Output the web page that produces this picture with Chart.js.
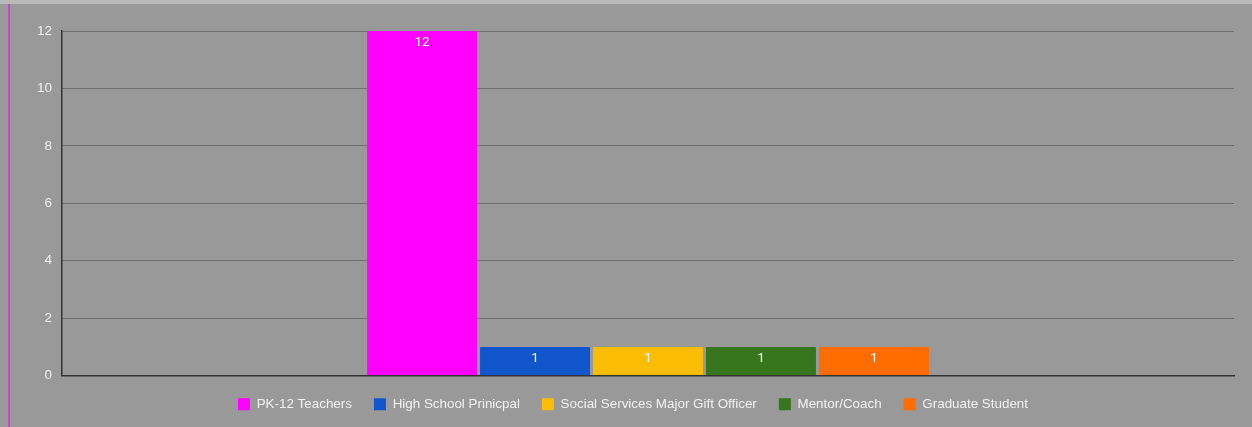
<!DOCTYPE html>
<html>
<head>
<meta charset="utf-8">
<script src="https://cdn.jsdelivr.net/npm/chart.js@4/dist/chart.umd.min.js"></script>
<style>
  html, body { margin: 0; padding: 0; background: #999999; }
  body { width: 1252px; height: 427px; overflow: hidden; position: relative; }
  #topStrip { position: absolute; left: 0; top: 0; width: 1252px; height: 4px; background: #b9b9b9; }
  #wrap { position: absolute; left: 8px; top: 4px; width: 1242px; height: 423px;
          border-left: 2px solid #cc44cc; background: #999999; }
  canvas { display: block; }
</style>
</head>
<body>
<div id="topStrip"></div>
<div id="wrap"><canvas id="roleChart" width="1242" height="423"></canvas></div>
<script>
// ── Data ─────────────────────────────────────────────────────
const categories = [''];
const roles  = ['PK-12 Teachers', 'High School Prinicpal', 'Social Services Major Gift Officer', 'Mentor/Coach', 'Graduate Student'];
const counts = [12, 1, 1, 1, 1];
const colors = ['#ff00ff', '#1155cc', '#fbbc04', '#38761d', '#ff6d01'];
const yTicks = [0, 2, 4, 6, 8, 10, 12];

// white value label inside the top of each bar
const barValueLabels = {
  id: 'barValueLabels',
  afterDatasetsDraw(chart) {
    const { ctx } = chart;
    ctx.save();
    ctx.fillStyle = '#ffffff';
    ctx.font = '13.5px Roboto, "Liberation Sans", sans-serif';
    ctx.textAlign = 'center';
    ctx.textBaseline = 'middle';
    chart.data.datasets.forEach((ds, i) => {
      chart.getDatasetMeta(i).data.forEach((bar, j) => {
        ctx.fillText(String(ds.data[j]), bar.x, bar.y + 12);
      });
    });
    ctx.restore();
  }
};

// pull the legend row up closer to the axis and re-center it (row width includes trailing padding)
const legendNudge = {
  id: 'legendNudge',
  afterLayout(chart) {
    const l = chart.legend;
    if (!l) return;
    l.top -= 8; l.bottom -= 8;
    l.left += 11; l.right += 11;
  }
};

const ctx = document.getElementById('roleChart').getContext('2d');
new Chart(ctx, {
  type: 'bar',
  data: {
    labels: categories,
    datasets: roles.map((r, i) => ({
      label: r,
      data: [counts[i]],
      backgroundColor: colors[i],
      borderWidth: 0,
      borderRadius: 1,
      categoryPercentage: 0.482,
      barPercentage: 0.973
    }))
  },
  options: {
    responsive: false,
    animation: false,
    layout: { padding: { top: 27, right: 18, left: 0, bottom: -2 } },
    scales: {
      x: {
        grid: { display: false },
        border: { color: '#333333', width: 1.5 },
        ticks: { display: false }
      },
      y: {
        min: 0,
        max: 12,
        afterBuildTicks: s => { s.ticks = yTicks.map(v => ({ value: v })); },
        afterFit: s => { s.width = 52; },
        grid: { color: '#6e6e6e', lineWidth: 1, drawTicks: false },
        border: { color: '#333333', width: 1.5 },
        ticks: {
          color: '#f2f2f2',
          padding: 10,
          font: { family: '"Liberation Sans", Arial, sans-serif', size: 13.5 }
        }
      }
    },
    plugins: {
      legend: {
        position: 'bottom',
        labels: {
          color: '#f2f2f2',
          boxWidth: 12,
          boxHeight: 12,
          padding: 22,
          font: { family: '"Liberation Sans", Arial, sans-serif', size: 13.4 }
        }
      },
      tooltip: { enabled: false }
    }
  },
  plugins: [barValueLabels, legendNudge]
});
</script>
</body>
</html>
